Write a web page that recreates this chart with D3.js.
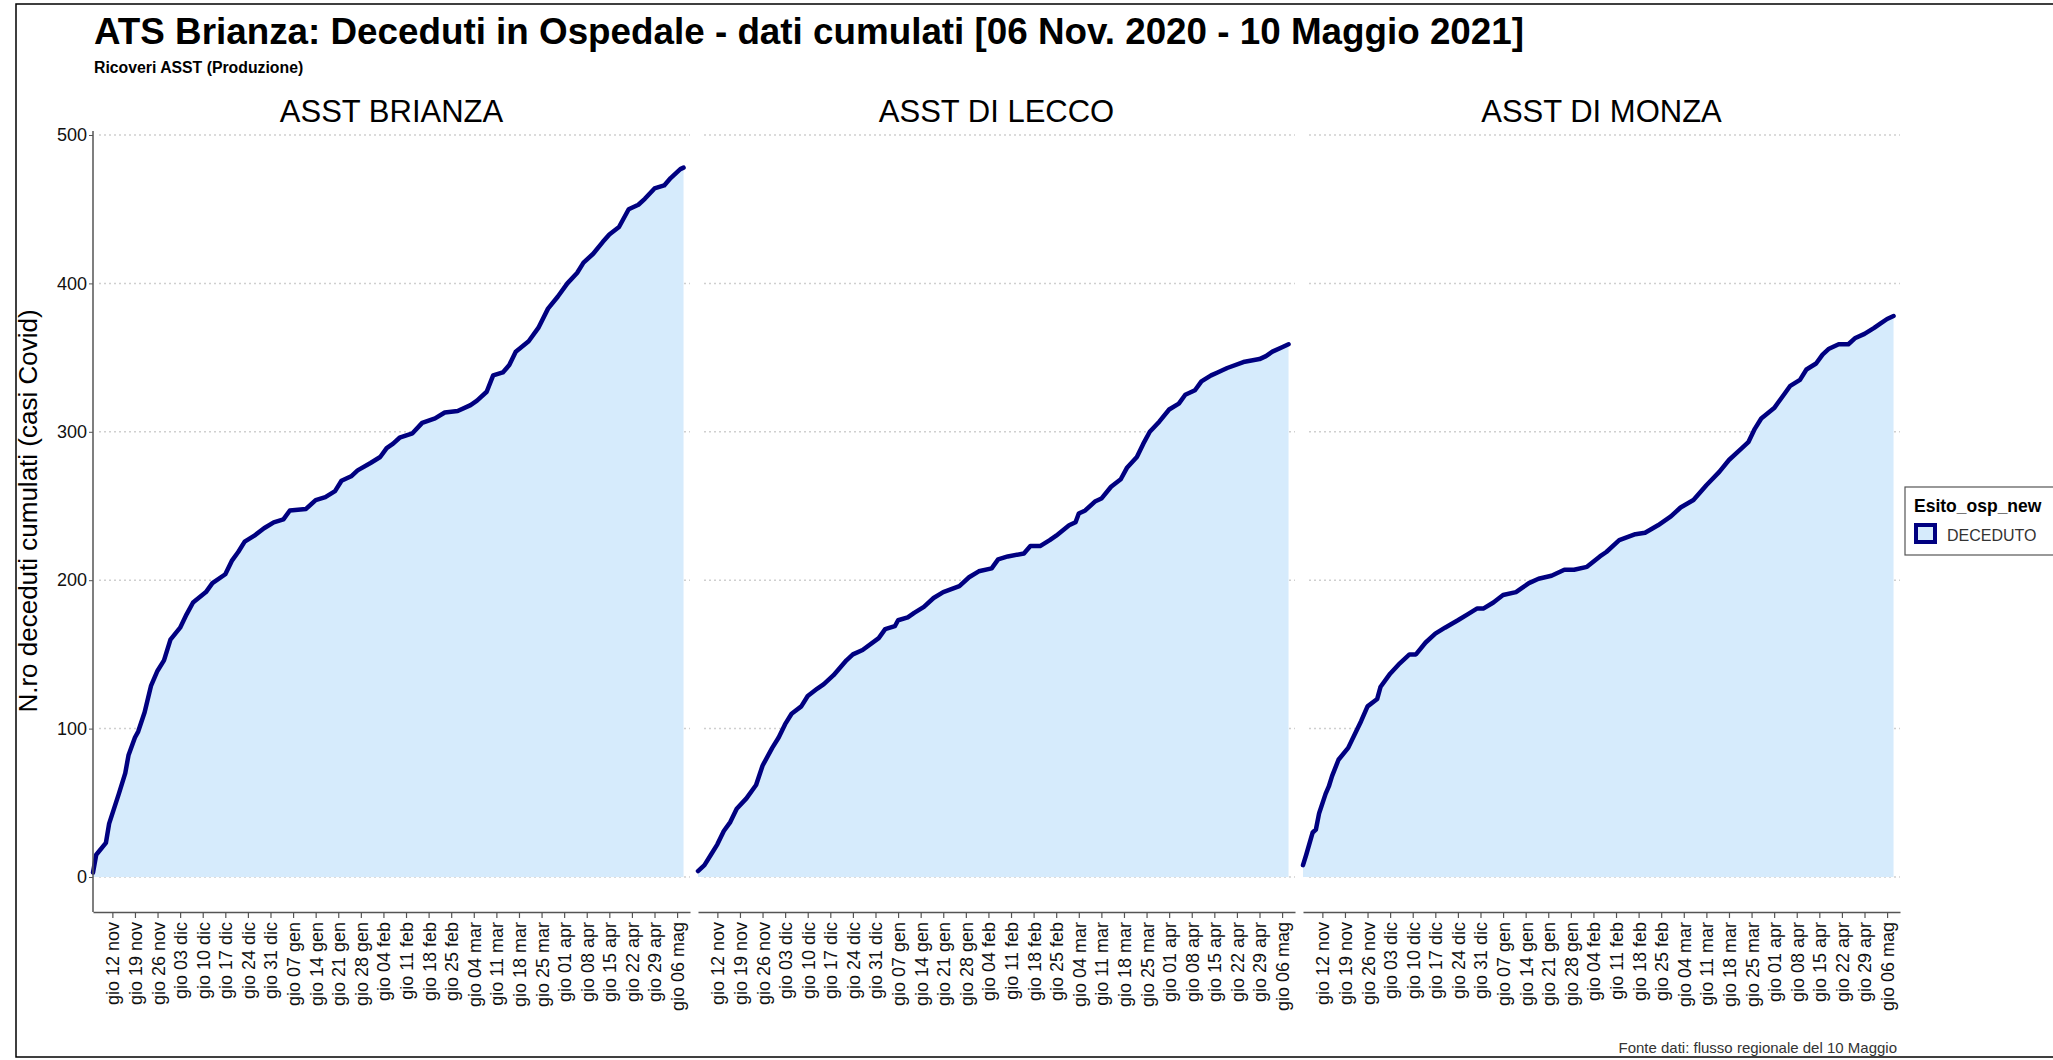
<!DOCTYPE html>
<html>
<head>
<meta charset="utf-8">
<script src="https://cdn.jsdelivr.net/npm/d3@7"></script>
<style>
  body { margin: 0; background: #fff; }
  text { font-family: "Liberation Sans", Arial, sans-serif; }
</style>
</head>
<body>
<div class="chart"></div>
<script>
// cumulated deaths
const brianza = [
  ["2020-11-06", 3], ["2020-11-07", 15], ["2020-11-10", 23], ["2020-11-11", 36],
  ["2020-11-14", 56], ["2020-11-16", 70], ["2020-11-17", 82], ["2020-11-19", 94],
  ["2020-11-20", 98], ["2020-11-22", 111], ["2020-11-24", 129], ["2020-11-26", 139],
  ["2020-11-28", 146], ["2020-11-30", 160], ["2020-12-03", 168], ["2020-12-05", 177],
  ["2020-12-07", 185], ["2020-12-11", 192], ["2020-12-13", 198], ["2020-12-17", 204],
  ["2020-12-19", 213], ["2020-12-21", 219], ["2020-12-23", 226], ["2020-12-26", 230],
  ["2020-12-29", 235], ["2021-01-01", 239], ["2021-01-04", 241], ["2021-01-06", 247],
  ["2021-01-11", 248], ["2021-01-14", 254], ["2021-01-17", 256], ["2021-01-20", 260],
  ["2021-01-22", 267], ["2021-01-25", 270], ["2021-01-27", 274], ["2021-01-31", 279],
  ["2021-02-03", 283], ["2021-02-05", 289], ["2021-02-07", 292], ["2021-02-09", 296],
  ["2021-02-13", 299], ["2021-02-16", 306], ["2021-02-20", 309], ["2021-02-23", 313],
  ["2021-02-27", 314], ["2021-03-03", 318], ["2021-03-05", 321], ["2021-03-08", 327],
  ["2021-03-10", 338], ["2021-03-13", 340], ["2021-03-15", 345], ["2021-03-17", 354],
  ["2021-03-21", 361], ["2021-03-24", 370], ["2021-03-27", 383], ["2021-03-30", 391],
  ["2021-04-02", 400], ["2021-04-05", 407], ["2021-04-07", 414], ["2021-04-10", 420],
  ["2021-04-13", 428], ["2021-04-15", 433], ["2021-04-18", 438], ["2021-04-21", 450],
  ["2021-04-24", 453], ["2021-04-26", 457], ["2021-04-29", 464], ["2021-05-02", 466],
  ["2021-05-04", 471], ["2021-05-07", 477], ["2021-05-08", 478]
];

const lecco = [
  ["2020-11-06", 4], ["2020-11-08", 8], ["2020-11-10", 15], ["2020-11-12", 22],
  ["2020-11-14", 31], ["2020-11-16", 37], ["2020-11-18", 46], ["2020-11-21", 53],
  ["2020-11-24", 62], ["2020-11-26", 75], ["2020-11-29", 87], ["2020-12-01", 94],
  ["2020-12-03", 103], ["2020-12-05", 110], ["2020-12-08", 115], ["2020-12-10", 122],
  ["2020-12-13", 127], ["2020-12-15", 130], ["2020-12-18", 136], ["2020-12-20", 141],
  ["2020-12-22", 146], ["2020-12-24", 150], ["2020-12-27", 153], ["2021-01-01", 161],
  ["2021-01-03", 167], ["2021-01-06", 169], ["2021-01-07", 173], ["2021-01-10", 175],
  ["2021-01-12", 178], ["2021-01-15", 182], ["2021-01-18", 188], ["2021-01-21", 192],
  ["2021-01-26", 196], ["2021-01-29", 202], ["2021-02-01", 206], ["2021-02-05", 208],
  ["2021-02-07", 214], ["2021-02-10", 216], ["2021-02-15", 218], ["2021-02-17", 223],
  ["2021-02-20", 223], ["2021-02-23", 227], ["2021-02-25", 230], ["2021-03-01", 237],
  ["2021-03-03", 239], ["2021-03-04", 245], ["2021-03-06", 247], ["2021-03-09", 253],
  ["2021-03-11", 255], ["2021-03-14", 263], ["2021-03-17", 268], ["2021-03-19", 276],
  ["2021-03-22", 283], ["2021-03-24", 292], ["2021-03-26", 300], ["2021-03-29", 307],
  ["2021-04-01", 315], ["2021-04-04", 319], ["2021-04-06", 325], ["2021-04-09", 328],
  ["2021-04-11", 334], ["2021-04-14", 338], ["2021-04-16", 340], ["2021-04-19", 343],
  ["2021-04-24", 347], ["2021-04-29", 349], ["2021-05-01", 351], ["2021-05-03", 354],
  ["2021-05-06", 357], ["2021-05-08", 359]
];

const monza = [
  ["2020-11-06", 8], ["2020-11-07", 15], ["2020-11-09", 30], ["2020-11-10", 32],
  ["2020-11-11", 43], ["2020-11-13", 56], ["2020-11-14", 61], ["2020-11-15", 68],
  ["2020-11-17", 79], ["2020-11-20", 87], ["2020-11-22", 96], ["2020-11-24", 105],
  ["2020-11-26", 115], ["2020-11-29", 120], ["2020-11-30", 128], ["2020-12-03", 137],
  ["2020-12-06", 144], ["2020-12-09", 150], ["2020-12-11", 150], ["2020-12-14", 158],
  ["2020-12-17", 164], ["2020-12-20", 168], ["2020-12-24", 173], ["2020-12-27", 177],
  ["2020-12-30", 181], ["2021-01-01", 181], ["2021-01-04", 185], ["2021-01-07", 190],
  ["2021-01-11", 192], ["2021-01-13", 195], ["2021-01-15", 198], ["2021-01-18", 201],
  ["2021-01-22", 203], ["2021-01-26", 207], ["2021-01-29", 207], ["2021-02-02", 209],
  ["2021-02-06", 216], ["2021-02-08", 219], ["2021-02-12", 227], ["2021-02-17", 231],
  ["2021-02-20", 232], ["2021-02-24", 237], ["2021-02-28", 243], ["2021-03-03", 249],
  ["2021-03-07", 254], ["2021-03-11", 264], ["2021-03-15", 273], ["2021-03-18", 281],
  ["2021-03-22", 289], ["2021-03-24", 293], ["2021-03-26", 302], ["2021-03-28", 309],
  ["2021-04-01", 316], ["2021-04-04", 325], ["2021-04-06", 331], ["2021-04-09", 335],
  ["2021-04-11", 342], ["2021-04-14", 346], ["2021-04-16", 352], ["2021-04-18", 356],
  ["2021-04-21", 359], ["2021-04-24", 359], ["2021-04-26", 363], ["2021-04-29", 366],
  ["2021-05-02", 370], ["2021-05-04", 373], ["2021-05-06", 376], ["2021-05-08", 378]
];

const panelNames = ["ASST BRIANZA", "ASST DI LECCO", "ASST DI MONZA"];
const panelData = [brianza, lecco, monza];
const yTicks = [0, 100, 200, 300, 400, 500];

const width = 2053;
const height = 1060;
const parse = d3.timeParse("%Y-%m-%d");

const it = d3.timeFormatLocale({
  dateTime: "%A %e %B %Y, %X", date: "%d/%m/%Y", time: "%H:%M:%S",
  periods: ["AM", "PM"],
  days: ["domenica", "lunedì", "martedì", "mercoledì", "giovedì", "venerdì", "sabato"],
  shortDays: ["dom", "lun", "mar", "mer", "gio", "ven", "sab"],
  months: ["gennaio", "febbraio", "marzo", "aprile", "maggio", "giugno", "luglio", "agosto", "settembre", "ottobre", "novembre", "dicembre"],
  shortMonths: ["gen", "feb", "mar", "apr", "mag", "giu", "lug", "ago", "set", "ott", "nov", "dic"]
});

const svg = d3
  .select(".chart")
  .append("svg")
  .attr("width", width)
  .attr("height", height);

svg.append("rect")
  .attr("x", 16).attr("y", 4)
  .attr("width", width).attr("height", 1053)
  .attr("fill", "none").attr("stroke", "#000").attr("stroke-width", 1.5);

svg.append("text")
  .attr("x", 94).attr("y", 44)
  .attr("font-size", "36.8px").attr("font-weight", "bold")
  .text("ATS Brianza: Deceduti in Ospedale - dati cumulati [06 Nov. 2020 - 10 Maggio 2021]");

svg.append("text")
  .attr("x", 94).attr("y", 73)
  .attr("font-size", "15.8px").attr("font-weight", "bold")
  .text("Ricoveri ASST (Produzione)");

const panelLeft = [93, 698, 1303];
const panelW = 597;
const panelTop = 131;
const axisY = 912;

const x = d3.scaleTime()
  .domain([parse("2020-11-06"), parse("2021-05-10")])
  .range([0, panelW]);
const y = d3.scaleLinear().domain([0, 500]).range([877, 135]);

const tickDates = d3.timeThursday.range(parse("2020-11-12"), parse("2021-05-07"));

const area = d3.area()
  .x((d) => x(parse(d[0])))
  .y0(y(0))
  .y1((d) => y(d[1]));
const line = d3.line()
  .x((d) => x(parse(d[0])))
  .y((d) => y(d[1]));

panelData.forEach((data, i) => {
  const g = svg.append("g").attr("transform", "translate(" + panelLeft[i] + ",0)");

  g.append("text")
    .attr("x", panelW / 2).attr("y", 122)
    .attr("text-anchor", "middle")
    .attr("font-size", "31px")
    .text(panelNames[i]);

  g.selectAll(".grid")
    .data(yTicks)
    .enter()
    .append("line")
    .attr("x1", 6).attr("x2", panelW)
    .attr("y1", (d) => y(d)).attr("y2", (d) => y(d))
    .attr("stroke", "#cfcfcf")
    .attr("stroke-width", 1.5)
    .attr("stroke-dasharray", "2,3");

  g.append("path")
    .datum(data)
    .attr("d", area)
    .attr("fill", "#d6ebfc");

  g.append("path")
    .datum(data)
    .attr("d", line)
    .attr("fill", "none")
    .attr("stroke", "#000080")
    .attr("stroke-width", 4.5)
    .attr("stroke-linejoin", "round")
    .attr("stroke-linecap", "round");

  const xAxis = g.append("g")
    .attr("transform", "translate(0," + axisY + ")")
    .call(d3.axisBottom(x).tickValues(tickDates).tickFormat(it.format("%a %d %b")).tickSizeInner(6).tickSizeOuter(0));
  xAxis.select(".domain").attr("stroke", "#555").attr("stroke-width", 1.5);
  xAxis.selectAll(".tick line").attr("stroke", "#555").attr("stroke-width", 1.2);
  xAxis.selectAll("text")
    .attr("transform", "rotate(-90)")
    .attr("text-anchor", "end")
    .attr("x", -10).attr("y", 0).attr("dy", "0.36em")
    .attr("font-size", "18px")
    .attr("font-family", "Liberation Sans, Arial, sans-serif")
    .attr("fill", "#111");

  if (i === 0) {
    const yAxis = g.append("g")
      .call(d3.axisLeft(y).tickValues(yTicks).tickSizeInner(4).tickSizeOuter(0));
    yAxis.select(".domain").remove();
    yAxis.selectAll(".tick line").attr("stroke", "#555");
    yAxis.selectAll("text")
      .attr("font-size", "18px")
      .attr("font-family", "Liberation Sans, Arial, sans-serif")
      .attr("fill", "#111")
      .attr("x", -6);
    g.append("line")
      .attr("x1", 0).attr("x2", 0)
      .attr("y1", panelTop).attr("y2", axisY)
      .attr("stroke", "#555").attr("stroke-width", 1.5);
  }
});

svg.append("text")
  .attr("transform", "translate(37,511) rotate(-90)")
  .attr("text-anchor", "middle")
  .attr("font-size", "26px")
  .text("N.ro deceduti cumulati (casi Covid)");

// legend
const lg = svg.append("g").attr("transform", "translate(1905,487)");
lg.append("rect")
  .attr("width", 170).attr("height", 68)
  .attr("fill", "#fff").attr("stroke", "#555").attr("stroke-width", 1.2);
lg.append("text")
  .attr("x", 9).attr("y", 25)
  .attr("font-size", "17.5px").attr("font-weight", "bold")
  .text("Esito_osp_new");
lg.append("rect")
  .attr("x", 11).attr("y", 38).attr("width", 19).attr("height", 17)
  .attr("fill", "#d6ebfc").attr("stroke", "#000080").attr("stroke-width", 4);
lg.append("text")
  .attr("x", 42).attr("y", 54)
  .attr("font-size", "16px").attr("fill", "#333")
  .text("DECEDUTO");

svg.append("text")
  .attr("x", 1897).attr("y", 1053)
  .attr("text-anchor", "end")
  .attr("font-size", "15px").attr("fill", "#333")
  .text("Fonte dati: flusso regionale del 10 Maggio");
</script>
</body>
</html>
